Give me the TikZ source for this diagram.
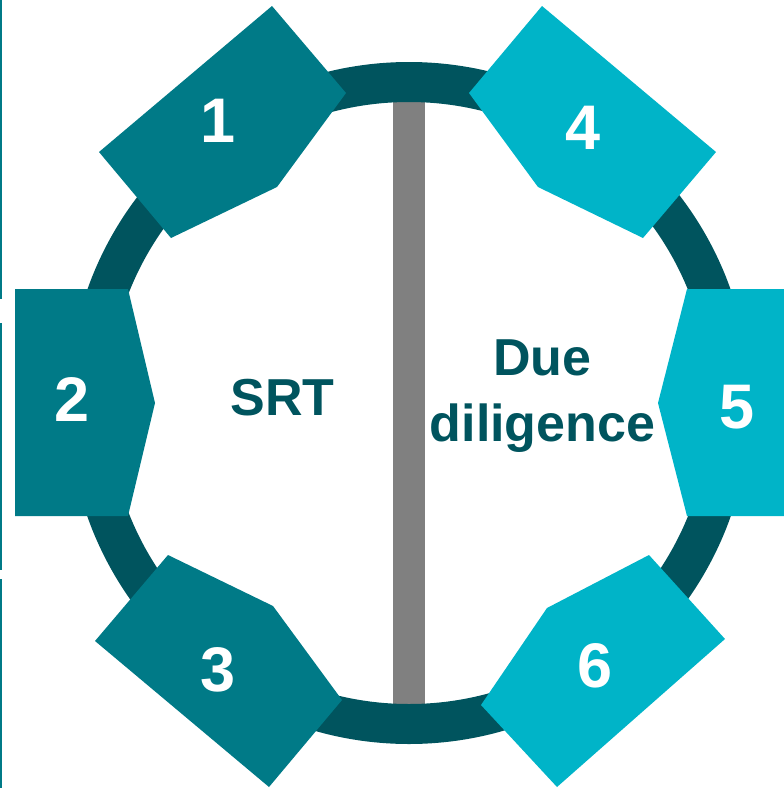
\documentclass[tikz,border=0pt]{standalone}
\usepackage{fontspec}
\setmainfont{Liberation Sans}
\definecolor{ringteal}{RGB}{0,84,94}
\definecolor{darkstep}{RGB}{0,122,135}
\definecolor{lightstep}{RGB}{0,180,200}
\definecolor{bargray}{RGB}{128,128,128}
\begin{document}
\begin{tikzpicture}[
        x=1pt, y=-1pt,
        srtstep/.style={fill=darkstep},
        ddstep/.style={fill=lightstep},
        num/.style={text=white, font=\fontsize{63}{63}\selectfont\bfseries},
        sidetext/.style={text=ringteal, align=center, font=\fontsize{52}{65.7}\selectfont\bfseries},
        edge/.style={darkstep, line width=1.5pt}
    ]
        \useasboundingbox (0,0) rectangle (784,788);
        \clip (0,0) rectangle (784,788);
        \draw[edge] (0.75,0) -- (0.75,299);
        \draw[edge] (0.75,323) -- (0.75,570);
        \draw[edge] (0.75,579) -- (0.75,788);
        \fill[bargray] (393,100) rectangle (425,705);
        \draw[ringteal, line width=40pt] (409,403) circle (321);
        \fill[srtstep] (272,6) -- (346,93) -- (277,187) -- (171,238) -- (99,152) -- cycle;
        \fill[srtstep] (15,289) -- (128,289) -- (155,403) -- (128,516) -- (15,516) -- cycle;
        \fill[srtstep] (168,555) -- (273,606) -- (342,700) -- (269,787) -- (95,641) -- cycle;
        \fill[ddstep] (542,6) -- (716,152) -- (643,238) -- (538,187) -- (469,93) -- cycle;
        \fill[ddstep] (800,289) -- (687,289) -- (658,403) -- (687,516) -- (800,516) -- cycle;
        \fill[ddstep] (649,555) -- (725,639) -- (557,787) -- (481,705) -- (547,608) -- cycle;
        \node[num] (n1) at (218,121) {1};
        \node[num] (n2) at (72,399) {2};
        \node[num] (n3) at (218,670) {3};
        \node[num] (n4) at (583,128) {4};
        \node[num] (n5) at (737,407) {5};
        \node[num] (n6) at (595,666) {6};
        \node[sidetext] (srt) at (282.5,398) {SRT};
        \node[sidetext] (dd) at (542.5,396) {Due\\diligence};
    \end{tikzpicture}
\end{document}
